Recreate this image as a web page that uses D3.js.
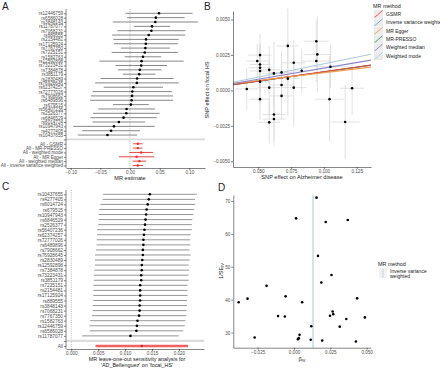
<!DOCTYPE html>
<html>
<head>
<meta charset="utf-8">
<script src="https://cdn.jsdelivr.net/npm/d3@7"></script>
<style>
body{margin:0;background:#fff;}
svg text{font-family:"Liberation Sans",Arial,sans-serif;}
</style>
</head>
<body>
<svg width="440" height="368"></svg>
<script>
// ---- data ----
// SNPs in the order of panel A (top to bottom)
var snps = ["rs12446759","rs6586028","rs3848143","rs11787077","rs7068231","rs889555","rs2154481","rs17125924",
  "rs7767350","rs7225151","rs1582763","rs12592898","rs73223431","rs7384878","rs3851179","rs2830489",
  "rs76928645","rs62374257","rs72777026","rs7908662","rs6489896","rs679515","rs56407236","rs2526377",
  "rs6846529","rs6014724","rs10947943","rs4277405","rs10437655"];
// per-SNP IV estimate (panel A points / panel D x)
var betaIV = [0.0488,0.0435,0.0426,0.0370,0.0360,0.0315,0.0270,0.0266,0.0258,0.0248,0.0218,0.0194,0.0188,0.0165,0.0155,
  0.0119,0.0115,0.0056,0.0038,0.0033,0.0027,0.0014,-0.0058,-0.0063,-0.0110,-0.0189,-0.0271,-0.0320,-0.0381];
// 1/SE of the IV estimate (panel D y)
var invSE = [34.6,40.4,27.3,64.2,34.1,31.8,35.6,36.4,47.5,35.1,63.6,27.6,45.2,53.3,71.0,
  31.9,27.8,39.2,29.3,28.3,28.0,64.7,41.0,34.9,35.0,44.2,28.5,40.3,39.2];
// panel B: SNP effect on AD (x) and on focal HS (y), with their standard errors
var bxAD = [0.0513,0.0492,0.0725,0.0942,0.0513,0.0513,0.0950,0.0513,0.0770,0.0583,0.0942,0.0619,0.0677,0.0831,0.1050,
  0.0513,0.0725,0.0677,0.0583,0.0412,0.0770,0.1215,0.0677,0.1043,0.0513,0.1162,0.0619,0.0619,0.0583];
var byHS = [0.00249,0.00207,0.00314,0.00347,0.00183,0.00160,0.00254,0.00137,0.00195,0.00145,0.00207,0.00120,0.00127,0.00139,0.00167,
  0.00062,0.00083,0.000385,0.000196,0.000105,0.000196,0.000154,-0.000385,-0.000616,-0.000616,-0.00223,-0.00170,-0.00202,-0.00225];
var seAD = [0.0090,0.0085,0.0084,0.0095,0.0080,0.0088,0.0100,0.0082,0.0090,0.0085,0.0110,0.0086,0.0090,0.0095,0.0133,
  0.0080,0.0088,0.0092,0.0087,0.0085,0.0095,0.0091,0.0093,0.0110,0.0082,0.0110,0.0088,0.0086,0.0084];
var seHS = [0.00148,0.00122,0.00266,0.00147,0.00150,0.00161,0.00267,0.00141,0.00162,0.00166,0.00148,0.00224,0.00150,0.00156,0.00148,
  0.00161,0.00261,0.00173,0.00199,0.00146,0.00275,0.00188,0.00165,0.00299,0.00147,0.00263,0.00217,0.00154,0.00149];

// summary MR estimates (panel A, red rows)
var mrMethods = ["All - GSMR","All - MR-PRESSO","All - weighted mode","All - MR Egger","All - weighted median","All - inverse variance weighted"];
var mrEst = [0.0132,0.0131,0.0188,0.0110,0.0157,0.0131];
var mrLo = [0.0052,0.0053,-0.0010,-0.0188,0.0045,0.0045];
var mrHi = [0.0212,0.0209,0.0386,0.0408,0.0270,0.0217];

// panel B regression lines
var lineMethods = ["GSMR","Inverse variance weighted","MR Egger","MR-PRESSO","Weighted median","Weighted mode"];
var lineSlope = [0.0132,0.0131,0.0110,0.0131,0.0157,0.0188];
var lineIntercept = [0,0,0.00015,0,0,0];
var lineColors = ["#e8453c","#6fa3d6","#f39a4c","#3d9b5c","#8b84cc","#a9cbe0"];
var drawOrder = [1,3,0,2,4,5];

// panel C leave-one-out
var looSnps = ["rs10437655","rs4277405","rs6014724","rs679515","rs10947943","rs6846529","rs2526377","rs56407236",
  "rs62374257","rs72777026","rs6489896","rs7908662","rs76928645","rs2830489","rs12592898","rs7384878",
  "rs73223431","rs3851179","rs7225151","rs2154481","rs17125924","rs889555","rs3848143","rs7068231",
  "rs7767350","rs1582763","rs12446759","rs6586028","rs11787077"];
var looEst = [0.0146,0.0144,0.0142,0.0140,0.0139,0.0138,0.0137,0.0136,0.0135,0.0134,0.0134,0.0133,0.0133,0.0132,0.0131,0.0131,
  0.0130,0.0130,0.0128,0.0128,0.0128,0.0128,0.0127,0.0127,0.0126,0.0123,0.0122,0.0121,0.0110];
var looLo = [0.0059,0.0058,0.0054,0.0052,0.0051,0.0051,0.0050,0.0048,0.0048,0.0047,0.0047,0.0046,0.0044,0.0044,0.0044,0.0043,
  0.0042,0.0042,0.0041,0.0041,0.0041,0.0041,0.0040,0.0040,0.0038,0.0035,0.0034,0.0034,0.0020];
var looHi = [0.0233,0.0230,0.0230,0.0228,0.0227,0.0225,0.0224,0.0224,0.0222,0.0221,0.0221,0.0220,0.0222,0.0220,0.0218,0.0219,
  0.0218,0.0218,0.0216,0.0216,0.0216,0.0215,0.0215,0.0214,0.0214,0.0212,0.0211,0.0208,0.0200];
var looAll = {est:0.0131, lo:0.0045, hi:0.0217};

// tick labels
var ticksA = [-0.10,-0.05,0,0.05,0.10];
var ticksBx = [0.050,0.075,0.100,0.125];
var ticksBy = [-0.005,-0.0025,0,0.0025,0.005];
var ticksC = [0,0.005,0.010,0.015,0.020];
var ticksDx = [-0.025,0,0.025,0.050];
var ticksDy = [30,40,50,60,70];

// ---- drawing ----
var svg = d3.select("svg");
var FONT = "Liberation Sans, Arial, sans-serif";
var red = "#e8312f";

function styleAxis(a){
    a.attr("font-family",FONT);
    a.select(".domain").attr("stroke","#333").attr("stroke-width",0.6);
    a.selectAll(".tick line").attr("stroke","#333").attr("stroke-width",0.6);
    a.selectAll(".tick text").attr("fill","#4d4d4d").attr("font-size","4.6px");
}
function panelLetter(t,x,y){
    svg.append("text").attr("x",x).attr("y",y).attr("font-size","10px").attr("fill","#222").text(t);
}

// ===== Panel A : forest plot =====
panelLetter("A",2,10);
var xA = d3.scaleLinear().domain([-0.108,0.1264]).range([66,205]);
var yA = d3.scalePoint().domain(snps.concat([""],mrMethods)).range([13.3,165.5]);
var gA = svg.append("g");
gA.append("line").attr("x1",xA(0)).attr("x2",xA(0)).attr("y1",9).attr("y2",168)
    .attr("stroke","#888").attr("stroke-width",0.6).attr("stroke-dasharray","1,1.2");
gA.append("line").attr("x1",66).attr("x2",205).attr("y1",yA("")).attr("y2",yA(""))
    .attr("stroke","#d9d9d9").attr("stroke-width",1.6);
gA.selectAll(".ciA").data(snps).enter().append("line")
    .attr("x1",(d,i)=>xA(betaIV[i]-1.96/invSE[i]))
    .attr("x2",(d,i)=>xA(betaIV[i]+1.96/invSE[i]))
    .attr("y1",d=>yA(d)).attr("y2",d=>yA(d))
    .attr("stroke","#7a7a7a").attr("stroke-width",0.9);
gA.selectAll(".ptA").data(snps).enter().append("circle")
    .attr("cx",(d,i)=>xA(betaIV[i])).attr("cy",d=>yA(d)).attr("r",1.3).attr("fill","#000");
gA.selectAll(".ciM").data(mrMethods).enter().append("line")
    .attr("x1",(d,i)=>xA(mrLo[i])).attr("x2",(d,i)=>xA(mrHi[i]))
    .attr("y1",d=>yA(d)).attr("y2",d=>yA(d))
    .attr("stroke",red).attr("stroke-width",0.9);
gA.selectAll(".ptM").data(mrMethods).enter().append("circle")
    .attr("cx",(d,i)=>xA(mrEst[i])).attr("cy",d=>yA(d)).attr("r",1.2).attr("fill",red);
var axAy = gA.append("g").attr("transform","translate(66,0)")
    .call(d3.axisLeft(yA).tickSize(2).tickPadding(1).tickSizeOuter(0));
styleAxis(axAy);
axAy.select(".domain").attr("d","M0,9V168");
axAy.selectAll(".tick text").attr("font-size","4.6px");
var axAx = gA.append("g").attr("transform","translate(0,168)")
    .call(d3.axisBottom(xA).tickValues(ticksA).tickFormat(d3.format(".2f")).tickSize(2).tickPadding(1).tickSizeOuter(0));
styleAxis(axAx);
gA.append("text").attr("x",xA(0)).attr("y",180).attr("text-anchor","middle")
    .attr("font-size","5.6px").attr("fill","#222").text("MR estimate");

// ===== Panel B : scatter with MR lines =====
panelLetter("B",204,10);
var xB = d3.scaleLinear().domain([0.0307,0.1359]).range([233,371]);
var yB = d3.scaleLinear().domain([-0.0054,0.0056]).range([167,11]);
var gB = svg.append("g");
svg.append("clipPath").attr("id","clipB").append("rect").attr("x",233).attr("y",9).attr("width",138).attr("height",158);
gB.selectAll(".ebx").data(bxAD).enter().append("line")
    .attr("x1",(d,i)=>xB(d-seAD[i])).attr("x2",(d,i)=>xB(d+seAD[i]))
    .attr("y1",(d,i)=>yB(byHS[i])).attr("y2",(d,i)=>yB(byHS[i]))
    .attr("stroke","#d9d9d9").attr("stroke-width",0.8).attr("clip-path","url(#clipB)");
gB.selectAll(".eby").data(bxAD).enter().append("line")
    .attr("x1",d=>xB(d)).attr("x2",d=>xB(d))
    .attr("y1",(d,i)=>yB(byHS[i]-seHS[i])).attr("y2",(d,i)=>yB(byHS[i]+seHS[i]))
    .attr("stroke","#d9d9d9").attr("stroke-width",0.8).attr("clip-path","url(#clipB)");
var xdom = xB.domain();
gB.selectAll(".mrline").data(drawOrder).enter().append("line")
    .attr("x1",xB(xdom[0])).attr("x2",xB(xdom[1]))
    .attr("y1",k=>yB(lineIntercept[k]+lineSlope[k]*xdom[0]))
    .attr("y2",k=>yB(lineIntercept[k]+lineSlope[k]*xdom[1]))
    .attr("stroke",k=>lineColors[k]).attr("stroke-width",1.1).attr("clip-path","url(#clipB)");
gB.selectAll(".ptB").data(bxAD).enter().append("circle")
    .attr("cx",d=>xB(d)).attr("cy",(d,i)=>yB(byHS[i])).attr("r",1.3).attr("fill","#000");
var axBx = gB.append("g").attr("transform","translate(0,167)")
    .call(d3.axisBottom(xB).tickValues(ticksBx).tickFormat(d3.format(".3f")).tickSize(2).tickPadding(1).tickSizeOuter(0));
styleAxis(axBx);
var axBy = gB.append("g").attr("transform","translate(233,0)")
    .call(d3.axisLeft(yB).tickValues(ticksBy).tickFormat(d3.format(".4f")).tickSize(2).tickPadding(1).tickSizeOuter(0));
styleAxis(axBy);
gB.append("text").attr("x",302).attr("y",179).attr("text-anchor","middle")
    .attr("font-size","5.6px").attr("fill","#222").text("SNP effect on Alzheimer disease");
gB.append("text").attr("transform","translate(209,90) rotate(-90)").attr("text-anchor","middle")
    .attr("font-size","5.6px").attr("fill","#222").text("SNP effect on focal HS");
// legend B (last label runs off the right edge, as in the original)
var lgB = svg.append("g").attr("transform","translate(373,0)");
lgB.append("text").attr("x",0).attr("y",8).attr("font-size","5.4px").attr("fill","#222").text("MR method");
var lgRows = lgB.selectAll(".lg").data(lineMethods).enter().append("g")
    .attr("transform",(d,i)=>"translate(1,"+(10+i*8.4)+")");
lgRows.append("rect").attr("width",9).attr("height",8).attr("fill","#ebebeb");
lgRows.append("line").attr("x1",0.5).attr("y1",7.5).attr("x2",8.5).attr("y2",0.5)
    .attr("stroke",(d,i)=>lineColors[i]).attr("stroke-width",0.9);
lgRows.append("text").attr("x",12).attr("y",5.8).attr("font-size","5px").attr("fill","#222").text(d=>d);

// ===== Panel C : leave-one-out =====
panelLetter("C",2,190);
var xC = d3.scaleLinear().domain([-0.00099,0.02467]).range([66,204]);
var yC = d3.scalePoint().domain(looSnps.concat(["","All"])).range([194.3,346]);
var gC = svg.append("g");
gC.append("line").attr("x1",xC(0)).attr("x2",xC(0)).attr("y1",190).attr("y2",349)
    .attr("stroke","#888").attr("stroke-width",0.6).attr("stroke-dasharray","1,1.2");
gC.append("line").attr("x1",66).attr("x2",204).attr("y1",yC("")).attr("y2",yC(""))
    .attr("stroke","#dcdcdc").attr("stroke-width",2.2);
gC.selectAll(".ciC").data(looSnps).enter().append("line")
    .attr("x1",(d,i)=>xC(looLo[i])).attr("x2",(d,i)=>xC(looHi[i]))
    .attr("y1",d=>yC(d)).attr("y2",d=>yC(d))
    .attr("stroke","#8a8a8a").attr("stroke-width",0.9);
gC.selectAll(".ptC").data(looSnps).enter().append("circle")
    .attr("cx",(d,i)=>xC(looEst[i])).attr("cy",d=>yC(d)).attr("r",1.3).attr("fill","#000");
gC.append("line").attr("x1",xC(looAll.lo)).attr("x2",xC(looAll.hi)).attr("y1",yC("All")).attr("y2",yC("All"))
    .attr("stroke","#f06262").attr("stroke-width",2.4);
gC.append("circle").attr("cx",xC(looAll.est)).attr("cy",yC("All")).attr("r",1.2).attr("fill","#d42020");
var axCy = gC.append("g").attr("transform","translate(66,0)")
    .call(d3.axisLeft(yC).tickSize(2).tickPadding(1).tickSizeOuter(0));
styleAxis(axCy);
axCy.select(".domain").attr("d","M0,190V349");
axCy.selectAll(".tick text").attr("font-size","4.8px");
var axCx = gC.append("g").attr("transform","translate(0,349)")
    .call(d3.axisBottom(xC).tickValues(ticksC).tickFormat(d3.format(".3f")).tickSize(2).tickPadding(0.5).tickSizeOuter(0));
styleAxis(axCx);
gC.append("text").attr("x",137).attr("y",360.5).attr("text-anchor","middle")
    .attr("font-size","5.4px").attr("fill","#222").text("MR leave-one-out sensitivity analysis for");
gC.append("text").attr("x",137).attr("y",366.8).attr("text-anchor","middle")
    .attr("font-size","5.4px").attr("fill","#222").text("'AD_Bellenguez' on 'focal_HS'");

// ===== Panel D : funnel plot =====
panelLetter("D",218,191);
var xD = d3.scaleLinear().domain([-0.0418,0.0528]).range([233.3,370.7]);
var yD = d3.scaleLinear().domain([25.4,71.8]).range([347.7,195]);
var gD = svg.append("g");
gD.append("line").attr("x1",xD(mrEst[5])).attr("x2",xD(mrEst[5])).attr("y1",195).attr("y2",347.7)
    .attr("stroke","#d3e3ee").attr("stroke-width",2);
gD.selectAll(".ptD").data(betaIV).enter().append("circle")
    .attr("cx",d=>xD(d)).attr("cy",(d,i)=>yD(invSE[i])).attr("r",1.3).attr("fill","#000");
var axDx = gD.append("g").attr("transform","translate(0,347.7)")
    .call(d3.axisBottom(xD).tickValues(ticksDx).tickFormat(d3.format(".3f")).tickSize(2).tickPadding(1).tickSizeOuter(0));
styleAxis(axDx);
var axDy = gD.append("g").attr("transform","translate(233.3,0)")
    .call(d3.axisLeft(yD).tickValues(ticksDy).tickSize(2).tickPadding(1).tickSizeOuter(0));
styleAxis(axDy);
var tx = gD.append("text").attr("x",302).attr("y",361).attr("text-anchor","middle")
    .attr("font-size","5.6px").attr("fill","#222");
tx.append("tspan").text("β");
tx.append("tspan").attr("font-size","4px").attr("dy","1.2").text("IV");
var ty = gD.append("text").attr("transform","translate(223,271) rotate(-90)").attr("text-anchor","middle")
    .attr("font-size","5.6px").attr("fill","#222");
ty.append("tspan").text("1/SE");
ty.append("tspan").attr("font-size","4px").attr("dy","1.2").text("IV");
// legend D
var lgD = svg.append("g").attr("transform","translate(378,0)");
lgD.append("text").attr("x",0).attr("y",266).attr("font-size","5.4px").attr("fill","#222").text("MR method");
lgD.append("rect").attr("x",1).attr("y",268).attr("width",8).attr("height",10).attr("fill","#f2f2f2");
lgD.append("line").attr("x1",5).attr("x2",5).attr("y1",268).attr("y2",278).attr("stroke","#c8dcea").attr("stroke-width",1.2);
lgD.append("text").attr("x",12).attr("y",272.5).attr("font-size","5px").attr("fill","#222").text("Inverse variance");
lgD.append("text").attr("x",12).attr("y",278).attr("font-size","5px").attr("fill","#222").text("weighted");
</script>
</body>
</html>
